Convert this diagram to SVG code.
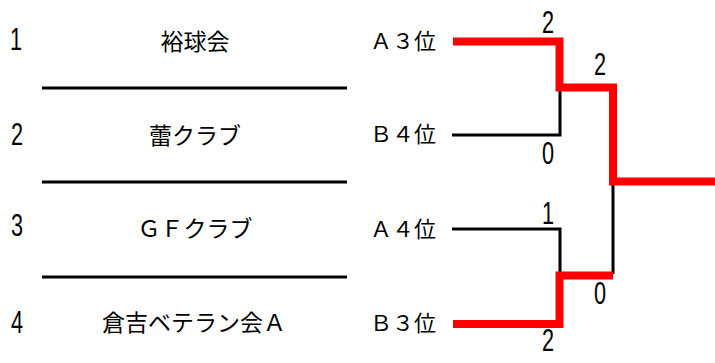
<svg xmlns="http://www.w3.org/2000/svg" width="715" height="363" viewBox="0 0 715 363">
<style>
.num{font-family:"Liberation Sans","DejaVu Sans",sans-serif;font-size:31px;fill:#000;text-anchor:middle}
.name{font-family:"Noto Sans CJK JP","Noto Sans",sans-serif;font-size:23px;fill:#000;text-anchor:middle}
.seed{font-family:"Noto Sans CJK JP","Noto Sans",sans-serif;font-size:22px;fill:#000}
.sep{stroke:#000;stroke-width:3;fill:none}
.lose{stroke:#000;stroke-width:3;fill:none}
.win{stroke:#ff0000;stroke-width:8;fill:none;stroke-linejoin:miter;stroke-linecap:square}
</style>
<rect width="715" height="363" fill="#fff"/>
<g id="team1">
<text class="num" transform="translate(16,50) scale(0.7,1)">1</text>
<text class="name" x="195" y="50">裕球会</text>
</g>
<g id="team2">
<text class="num" transform="translate(17,145) scale(0.7,1)">2</text>
<text class="name" x="195" y="144">蕾クラブ</text>
</g>
<g id="team3">
<text class="num" transform="translate(17,236) scale(0.7,1)">3</text>
<text class="name" x="195" y="237">ＧＦクラブ</text>
</g>
<g id="team4">
<text class="num" transform="translate(17,333) scale(0.7,1)">4</text>
<text class="name" x="194" y="331">倉吉ベテラン会Ａ</text>
</g>
<g id="separators">
<line class="sep" x1="42" y1="88" x2="347" y2="88"/>
<line class="sep" x1="42" y1="182" x2="347" y2="182"/>
<line class="sep" x1="42" y1="277" x2="347" y2="277"/>
</g>
<g id="seed-a3"><text class="seed" x="370" y="49">Ａ３位</text></g>
<g id="seed-b4"><text class="seed" x="370" y="142">Ｂ４位</text></g>
<g id="seed-a4"><text class="seed" x="370" y="237">Ａ４位</text></g>
<g id="seed-b3"><text class="seed" x="370" y="331">Ｂ３位</text></g>
<g id="connectors">
<polyline class="lose" points="452,135 560,135 560,90"/>
<polyline class="lose" points="452,229 560,229 560,273"/>
<line class="lose" x1="613" y1="184" x2="613" y2="274"/>
<polyline class="win" points="457,41.5 559.5,41.5 559.5,87.5 613,87.5 613,181.5 711,181.5"/>
<polyline class="win" points="457,324 559.5,324 559.5,275.5 609,275.5"/>
</g>
<g id="scores">
<text class="num" transform="translate(548,33) scale(0.7,1)">2</text>
<text class="num" transform="translate(548,164) scale(0.7,1)">0</text>
<text class="num" transform="translate(600,75) scale(0.7,1)">2</text>
<text class="num" transform="translate(548,224) scale(0.7,1)">1</text>
<text class="num" transform="translate(600,304) scale(0.7,1)">0</text>
<text class="num" transform="translate(548,351) scale(0.7,1)">2</text>
</g>
</svg>
